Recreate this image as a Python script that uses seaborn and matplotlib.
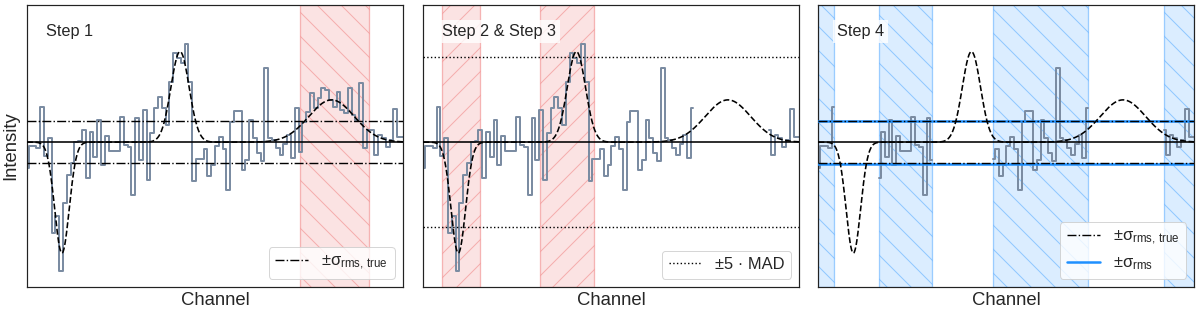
import numpy as np
import pandas as pd
import matplotlib
matplotlib.use('Agg')
import matplotlib.pyplot as plt
import seaborn as sns

# spectrum (in units of the true rms noise), one value per channel
channels = np.arange(100)
intensity = [
    -1.25, -0.18, -0.18, -0.29, 1.71, -0.69, 0.19, -4.37, -3.57, -6.20,
    -2.93, -1.57, -1.00, 0.00, 0.06, 0.56, -1.73, 0.51, -0.70, 1.07,
    -1.09, 0.30, -0.42, -0.42, -0.42, 1.23, -0.13, -0.21, -2.53, 1.18,
    -0.85, 1.55, -1.81, 0.46, 1.66, 2.19, 1.66, 0.83, 2.91, 4.27,
    4.03, 3.79, 4.70, 2.91, -1.86, -0.80, -0.80, -0.34, -1.65, -1.12,
    -0.18, 0.27, -0.34, -2.29, 0.96, 1.50, 1.50, -1.33, -0.85, 1.07,
    0.20, -0.53, -0.93, 3.55, 0.22, 0.11, -0.29, -0.61, -0.10, 0.35,
    -0.77, 1.66, -0.48, 0.96, 1.47, 2.35, 1.63, 2.14, 2.59, 2.51,
    2.03, 1.71, 2.43, 1.55, 1.39, 2.59, 1.31, 1.04, 2.83, -0.26,
    0.59, 0.59, -0.61, 0.35, 0.19, -0.21, 0.11, 1.58, 0.27, 0.27,
]

# the three emission/absorption components of the model
line_amp = [-5.33, 4.35, 2.03]
line_center = [9.2, 40.3, 80.2]
line_width = [1.9, 2.4, 6.0]

sigma_true = 1.0
sigma_rms = 1.03
mad5 = 4.08

step1_bands = [(72, 90)]
step23_bands = [(4.8, 14.9), (30.7, 45.0)]
step4_bands = [(0, 4), (16, 30), (46, 71), (91, 99)]

DATA_COLOR = '#7b8ca2'
RED_FACE = (0.94, 0.50, 0.50, 0.22)
RED_EDGE = (0.94, 0.50, 0.50, 0.55)
BLUE_FACE = (0.12, 0.56, 1.00, 0.16)
BLUE_EDGE = (0.12, 0.56, 1.00, 0.40)
BLUE = '#1e90ff'

# figure is laid out at 72 dpi, so 1 pt == 1 px
LABEL_FS = 18.5
STEP_FS = 16.3
LEGEND_FS = 16.5

sns.set_theme(style='white')
plt.rcParams['font.family'] = ['Liberation Sans', 'DejaVu Sans']
plt.rcParams['mathtext.fontset'] = 'custom'
plt.rcParams['mathtext.rm'] = 'Liberation Sans'
plt.rcParams['mathtext.it'] = 'Liberation Sans'
plt.rcParams['mathtext.default'] = 'regular'
plt.rcParams['hatch.linewidth'] = 1.0


def segments(mask):
    # split the visible channels into contiguous runs
    df = pd.DataFrame({'ch': channels, 'val': intensity})
    df = df[mask].copy()
    df['seg'] = (df['ch'].diff() != 1).cumsum()
    return df


def model_df():
    x = np.linspace(0, 99, 1000)
    y = np.zeros_like(x)
    for a, c, w in zip(line_amp, line_center, line_width):
        y += a * np.exp(-0.5 * ((x - c) / w) ** 2)
    return pd.DataFrame({'ch': x, 'val': y})


def draw_data(ax, mask):
    df = segments(mask)
    sns.lineplot(data=df, x='ch', y='val', units='seg', estimator=None,
                 drawstyle='steps-mid', color=DATA_COLOR, lw=2.0, ax=ax,
                 zorder=2)


def common(ax, step_text):
    sns.lineplot(data=model_df(), x='ch', y='val', color='black', lw=1.6,
                 linestyle='--', ax=ax, zorder=5)
    ax.axhline(0, color='black', lw=1.6, zorder=4)
    ax.set_xlim(0, 99)
    ax.set_ylim(-6.96, 6.59)
    ax.set_xticks([])
    ax.set_yticks([])
    ax.set_xlabel('Channel', fontsize=LABEL_FS, labelpad=5)
    ax.set_ylabel('')
    for s in ax.spines.values():
        s.set_color('#222222')
        s.set_linewidth(1.2)
    ax.text(0.05, 0.905, step_text, transform=ax.transAxes, fontsize=STEP_FS,
            ha='left', va='center', zorder=6,
            bbox=dict(facecolor='white', alpha=0.8, edgecolor='none', pad=4))


fig = plt.figure(figsize=(1200 / 72, 312 / 72), dpi=72)
lefts = [0.0225, 0.3528, 0.682]
axes = [fig.add_axes([l, 0.0801, 0.3133, 0.904]) for l in lefts]
ch = np.array(channels)

# Step 1
ax = axes[0]
for a, b in step1_bands:
    ax.axvspan(a, b, facecolor=RED_FACE, edgecolor=RED_EDGE, hatch='\\',
               lw=1.3, zorder=0)
draw_data(ax, np.ones(len(ch), dtype=bool))
for s in (sigma_true, -sigma_true):
    ax.axhline(s, color='black', lw=1.4, linestyle='-.', zorder=3,
               label=r'$\pm\sigma_{\mathrm{rms,\,true}}$' if s > 0 else None)
common(ax, 'Step 1')
ax.set_ylabel('Intensity', fontsize=LABEL_FS, labelpad=8)
ax.legend(loc='lower right', fontsize=LEGEND_FS, framealpha=0.8)

# Step 2 & 3
ax = axes[1]
for a, b in step23_bands:
    ax.axvspan(a, b, facecolor=RED_FACE, edgecolor=RED_EDGE, hatch='/',
               lw=1.3, zorder=0)
keep = np.ones(len(ch), dtype=bool)
for a, b in step1_bands:
    keep &= ~((ch >= a) & (ch <= b))
draw_data(ax, keep)
for s in (mad5, -mad5):
    ax.axhline(s, color='black', lw=1.4, linestyle=':', zorder=3,
               label='±5 · MAD' if s > 0 else None)
common(ax, 'Step 2 & Step 3')
ax.legend(loc='lower right', fontsize=LEGEND_FS, framealpha=0.8)

# Step 4
ax = axes[2]
keep = np.zeros(len(ch), dtype=bool)
for a, b in step4_bands:
    ax.axvspan(a, b, facecolor=BLUE_FACE, edgecolor=BLUE_EDGE, hatch='\\',
               lw=1.3, zorder=0)
    keep |= (ch >= a) & (ch <= b)
draw_data(ax, keep)
for s in (sigma_true, -sigma_true):
    ax.axhline(s, color='black', lw=1.4, linestyle='-.', zorder=3.5,
               label=r'$\pm\sigma_{\mathrm{rms,\,true}}$' if s > 0 else None)
for s in (sigma_rms, -sigma_rms):
    ax.axhline(s, color=BLUE, lw=2.5, zorder=3,
               label=r'$\pm\sigma_{\mathrm{rms}}$' if s > 0 else None)
common(ax, 'Step 4')
ax.legend(loc='lower right', fontsize=LEGEND_FS, framealpha=0.8)

fig.savefig('out.png', dpi=72)
